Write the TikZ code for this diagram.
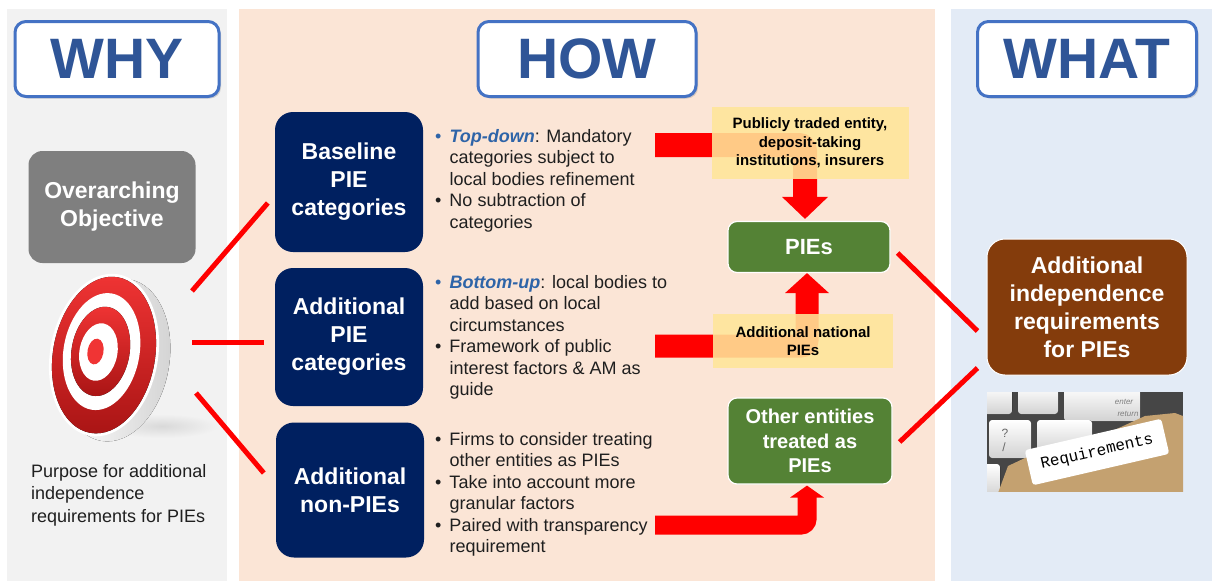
\documentclass[tikz,border=0pt]{standalone}
\usepackage{fontspec}
\setmainfont{Liberation Sans}
\newfontfamily\reqfont{Liberation Mono}
\usetikzlibrary{shadows}
\definecolor{hdrblue}{HTML}{2F5597}
\definecolor{hdrline}{HTML}{4472C4}
\definecolor{navy}{HTML}{002060}
\definecolor{piegreen}{HTML}{548235}
\definecolor{rust}{HTML}{843C0C}
\definecolor{boxgray}{HTML}{7F7F7F}
\definecolor{note}{HTML}{FFE699}
\definecolor{whybg}{HTML}{F2F2F2}
\definecolor{howbg}{HTML}{FBE5D6}
\definecolor{whatbg}{HTML}{E3EBF6}
\definecolor{keyblue}{HTML}{2E64A8}
\definecolor{txt}{HTML}{1F1F1F}
\definecolor{tgtred}{HTML}{F03434}
\definecolor{tgtdark}{HTML}{A81414}
\definecolor{folder}{HTML}{C4A170}
\begin{document}
\begin{tikzpicture}[x=1pt,y=-1pt,
  header/.style={draw=hdrline,line width=3pt,fill=white,rounded corners=11pt,minimum width=#1,minimum height=75pt,inner sep=0pt,text=hdrblue,font=\fontsize{57}{60}\selectfont\bfseries,drop shadow={shadow xshift=2pt,shadow yshift=-2pt,opacity=.3}},
  navybox/.style={fill=navy,rounded corners=18pt,minimum width=148pt,minimum height=#1,inner sep=0pt,align=center,text=white,font=\fontsize{23}{28}\selectfont\bfseries},
  greenbox/.style={fill=piegreen,draw=white,line width=1.2pt,rounded corners=9pt,minimum width=162pt,minimum height=#1,inner sep=0pt,align=center,text=white},
  notebox/.style={fill=note,fill opacity=.88,text opacity=1,minimum width=#1,inner sep=0pt,align=center,font=\fontsize{15}{18.5}\selectfont\bfseries},
  bullets/.style={anchor=base west,inner sep=0pt,font=\fontsize{18}{21.5}\selectfont,text=txt},
  redline/.style={draw=red,line width=5pt},
  redbar/.style={draw=red,line width=#1,rounded corners=6pt},
  key/.style={rounded corners=3pt,top color=white,bottom color=gray!35}]
\useasboundingbox (0,0) rectangle (1212,581);
% panels
\fill[whybg] (7,9) rectangle (227,581);
\fill[howbg] (239,9) rectangle (935,581);
\fill[whatbg] (951,9) rectangle (1212,581);
\node[header=204pt] (why) at (117,59) {WHY};
\node[header=218pt] (how) at (587,59) {HOW};
\node[header=219pt] (what) at (1087,59) {WHAT};
% why
\node[fill=boxgray,rounded corners=14pt,minimum width=167pt,minimum height=112pt,inner sep=0pt,align=center,text=white,font=\fontsize{23}{28}\selectfont\bfseries] (goal) at (112,207) {Overarching\\Objective};
\coordinate (target) at (104,355);
\shade[inner color=gray!30,outer color=whybg] (162,426) ellipse [x radius=56,y radius=12];
\begin{scope}[rotate around={-10:(target)}]
\fill[left color=white,right color=gray!35] ([shift={(12,3)}]target) ellipse [x radius=54,y radius=82];
\fill[white] (target) ellipse [x radius=54,y radius=82];
\fill[top color=tgtred,bottom color=tgtdark] (target) ellipse [x radius=51,y radius=79];
\fill[white] ([shift={(-3,-3)}]target) ellipse [x radius=38,y radius=59];
\fill[top color=tgtred,bottom color=tgtdark] ([shift={(-4,-3)}]target) ellipse [x radius=29,y radius=45];
\fill[white] ([shift={(-6,-2)}]target) ellipse [x radius=19,y radius=29];
\fill[tgtred] ([shift={(-9,-2)}]target) ellipse [x radius=8,y radius=13];
\end{scope}
\node[bullets,font=\fontsize{18}{22.5}\selectfont] (purpose) at (31,477) {\begin{tabular}[t]{@{}l@{}}Purpose for additional\\independence\\requirements for PIEs\end{tabular}};
% how
\node[navybox=140pt] (base) at (349,182) {Baseline\\PIE\\categories};
\node[navybox=138pt] (addl) at (349,337) {Additional\\PIE\\categories};
\node[navybox=135pt] (nonpie) at (350,490) {Additional\\non-PIEs};
\draw[redline] ([shift={(88,-64)}]target) -- ([shift={(-7,21)}]base.west);
\draw[redline] ([shift={(88,-13)}]target) -- ([shift={(-11,5)}]addl.west);
\draw[redline] ([shift={(92,38)}]target) -- ([shift={(-12,-17)}]nonpie.west);
\node[bullets] (topdown) at (435,142) {\begin{tabular}[t]{@{}l@{\hspace{8pt}}l@{}}
\textcolor{keyblue}{\textbullet} & \textcolor{keyblue}{\textbf{\textit{Top-down}}}: Mandatory\\
 & categories subject to\\
 & local bodies refinement\\
\textbullet & No subtraction of\\
 & categories
\end{tabular}};
\node[bullets] (bottomup) at (435,288) {\begin{tabular}[t]{@{}l@{\hspace{8pt}}l@{}}
\textcolor{keyblue}{\textbullet} & \textcolor{keyblue}{\textbf{\textit{Bottom-up}}}: local bodies to\\
 & add based on local\\
 & circumstances\\
\textbullet & Framework of public\\
 & interest factors \& AM as\\
 & guide
\end{tabular}};
\node[bullets] (firms) at (435,445) {\begin{tabular}[t]{@{}l@{\hspace{8pt}}l@{}}
\textbullet & Firms to consider treating\\
 & other entities as PIEs\\
\textbullet & Take into account more\\
 & granular factors\\
\textbullet & Paired with transparency\\
 & requirement
\end{tabular}};
\node[greenbox=51pt,font=\fontsize{22}{26}\selectfont\bfseries] (pies) at (809,247) {PIEs};
\node[greenbox=86pt,minimum width=164pt,font=\fontsize{20}{24.5}\selectfont\bfseries] (other) at (810,441) {Other entities\\treated as\\PIEs};
% block arrows
\coordinate (from1) at (655,145);
\coordinate (from2) at (655,346);
\coordinate (from3) at (655,525);
\draw[redbar=24pt] (from1) -| ([shift={(-4,-22)}]pies.north);
\fill[red] ([shift={(-4,-2)}]pies.north) -- ++(-23,-22) -- ++(46,0) -- cycle;
\draw[redbar=23pt] (from2) -| ([shift={(-2,20)}]pies.south);
\fill[red] ([shift={(-2,0)}]pies.south) -- ++(-22,20) -- ++(44,0) -- cycle;
\draw[redbar=19pt] (from3) -| ([shift={(-3,12)}]other.south);
\fill[red] ([shift={(-3,1)}]other.south) -- ++(-17,12) -- ++(34,0) -- cycle;
\node[notebox=197pt,minimum height=72pt] (listed) at (810,143) {Publicly traded entity,\\deposit-taking\\institutions, insurers};
\node[notebox=180pt,minimum height=54pt] (national) at (803,341) {Additional national\\PIEs};
% what
\node[fill=rust,draw=white,line width=1pt,rounded corners=18pt,minimum width=200pt,minimum height=136pt,inner sep=0pt,align=center,text=white,font=\fontsize{23}{28}\selectfont\bfseries] (result) at (1087,307) {Additional\\independence\\requirements\\for PIEs};
\draw[redline] ([shift={(7,6)}]pies.east) -- ([shift={(-9,24)}]result.west);
\draw[redline] ([shift={(7,1)}]other.east) -- ([shift={(-9,61)}]result.west);
\begin{scope}
\clip (987,392) rectangle (1183,491);
\fill[gray!55!black] (987,392) rectangle (1183,491);
\fill[key] (975,386) rectangle (1012,414);
\fill[key] (1018,386) rectangle (1058,414);
\fill[key] (1064,386) rectangle (1140,421);
\fill[key] (989,420) rectangle (1031,458);
\fill[key] (1037,420) rectangle (1092,452);
\fill[key] (978,464) rectangle (1000,496);
\node[text=gray,font=\fontsize{8}{8}\selectfont\itshape] (enter) at (1124,402) {enter};
\node[text=gray,font=\fontsize{8}{8}\selectfont\itshape] (return) at (1128,414) {return};
\node[text=gray!80!black,font=\fontsize{12}{12}\selectfont] (qmark) at (1005,433) {?};
\node[text=gray!80!black,font=\fontsize{12}{12}\selectfont] (slash) at (1004,447) {/};
\fill[folder] (998,493) -- (1008,466) -- (1025,458) -- (1110,432) -- (1145,416) -- (1175,413) -- (1183,416) -- (1183,493) -- cycle;
\fill[white,rounded corners=3pt,rotate around={13:(1097,452)}] (1027,434) rectangle (1167,470);
\node[rotate=13,inner sep=0pt,font=\reqfont\fontsize{16}{16}\selectfont] (label) at (1097,452) {Requirements};
\end{scope}
\end{tikzpicture}
\end{document}
